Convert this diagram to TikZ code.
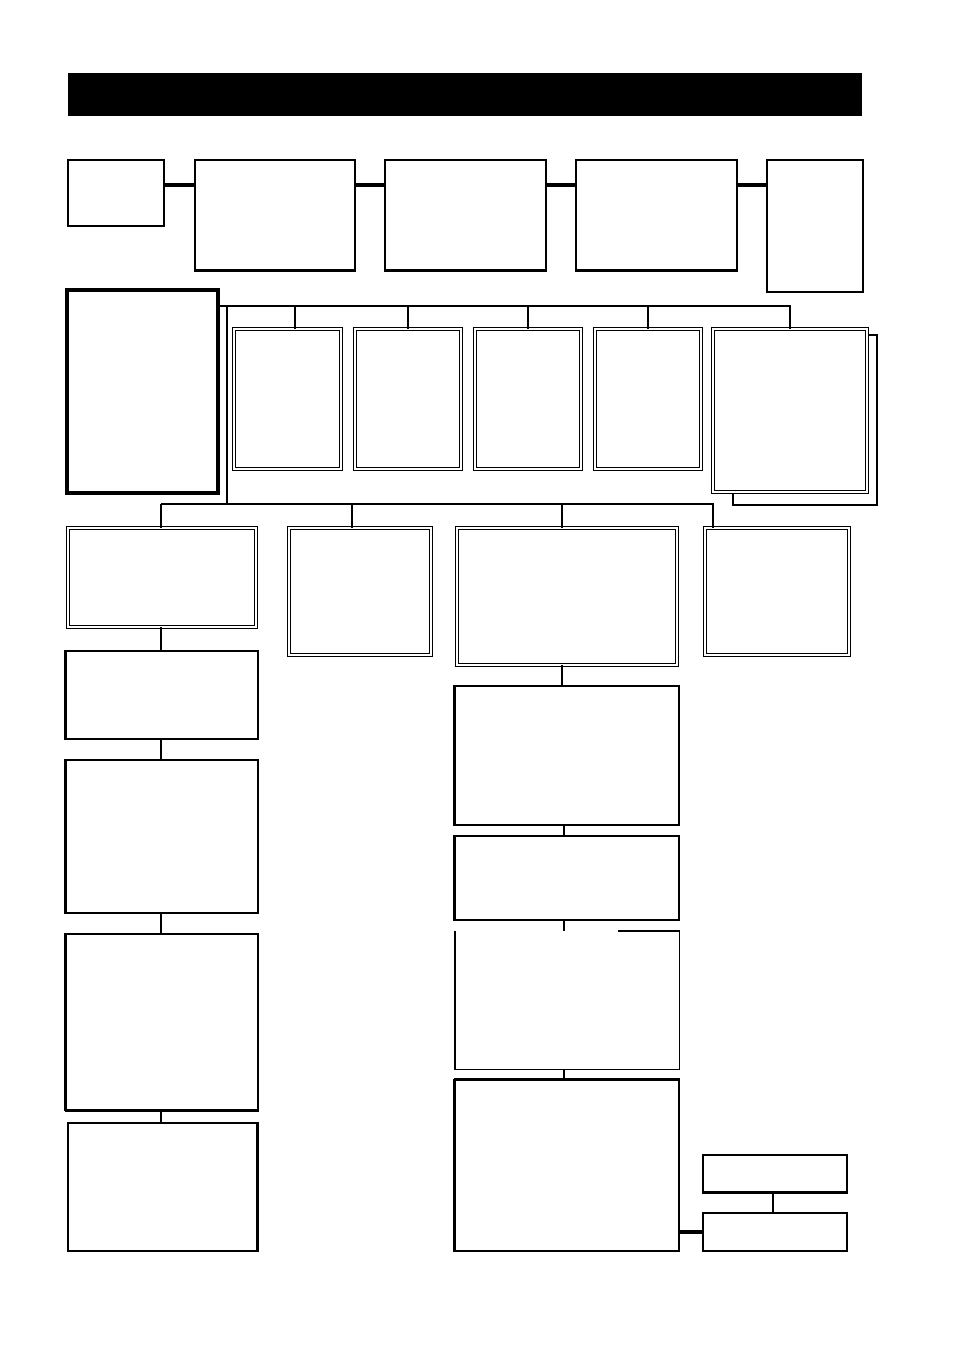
\documentclass[tikz,border=0pt]{standalone}
\usetikzlibrary{fit}
\begin{document}
\begin{tikzpicture}[x=1pt,y=-1pt,
  box/.style={draw, line width=1.1pt, inner sep=0pt, fill=white},
  dbox/.style={draw, double, line width=0.9pt, double distance=1.7pt, inner sep=0pt, fill=white},
  heavybox/.style={draw, line width=3.8pt, inner sep=0pt},
  link/.style={line width=3.4pt},
  wire/.style={line width=2pt},
  thickedge/.style={line width=2.6pt}]
\newcommand\mybox[6]{\node[#6, fit={(#2,#3) (#4,#5)}] (#1) {};}
\useasboundingbox (0,0) rectangle (954,1348);
% title bar
\node[fill=black, inner sep=0pt, fit={(68,73) (862,116)}] (bar) {};
% top row
\mybox{a}{68}{160}{164}{226}{box}
\mybox{b}{195}{160}{355}{270}{box}
\mybox{c}{385}{160}{546}{270}{box}
\mybox{d}{576}{160}{737}{270}{box}
\mybox{e}{767}{160}{863}{292}{box}
\draw[thickedge] (b.south west) -- (b.south east);
\draw[thickedge] (c.south west) -- (c.south east);
\draw[thickedge] (d.south west) -- (d.south east);
\draw[link] (a.east |- 0,185) -- (b.west |- 0,185);
\draw[link] (b.east |- 0,185) -- (c.west |- 0,185);
\draw[link] (c.east |- 0,185) -- (d.west |- 0,185);
\draw[link] (d.east |- 0,185) -- (e.west |- 0,185);
% main box
\mybox{main}{67}{290}{218}{493}{heavybox}
% second row
\mybox{r1}{234}{329}{341}{469}{dbox}
\mybox{r2}{355}{329}{461}{469}{dbox}
\mybox{r3}{475}{329}{581}{469}{dbox}
\mybox{r4}{595}{329}{701}{469}{dbox}
\draw[line width=1.1pt, fill=white] (733,335) rectangle (877,505);
\draw[line width=2.4pt] (877,505) -- (733,505);
\mybox{r5}{713}{329}{867}{492}{dbox}
\coordinate (busA) at (219,306);
\coordinate (busB) at (227,504);
\draw[wire] (main.east |- busA) -- (r5.north |- busA) -- (r5.north);
\draw[wire] ([xshift=7pt]r1.north |- busA) -- ([xshift=7pt]r1.north);
\draw[wire] (r2.north |- busA) -- (r2.north);
\draw[wire] (r3.north |- busA) -- (r3.north);
\draw[wire] (r4.north |- busA) -- (r4.north);
\draw[wire] (227,306) -- (busB);
% third row
\mybox{s1}{68}{528}{256}{627}{dbox}
\mybox{s2}{289}{528}{431}{655}{dbox}
\mybox{s3}{457}{528}{677}{665}{dbox}
\mybox{s4}{705}{528}{849}{655}{dbox}
\coordinate (busC) at (713,504);
\draw[wire] ([xshift=-1pt]s1.north |- busB) -- (busC) -- (busC |- s4.north);
\draw[wire] ([xshift=-1pt]s1.north |- busB) -- ([xshift=-1pt]s1.north);
\draw[wire] ([xshift=-8pt]s2.north |- busB) -- ([xshift=-8pt]s2.north);
\draw[wire] ([xshift=-5pt]s3.north |- busB) -- ([xshift=-5pt]s3.north);
% left column
\mybox{l1}{66}{651}{258}{739}{box}
\mybox{l2}{66}{760}{258}{913}{box}
\mybox{l3}{66}{934}{258}{1110}{box}
\mybox{l4}{68}{1123}{257}{1251}{box}
\draw[wire] ([xshift=-1pt]s1.south) -- ([xshift=-1pt]l1.north);
\draw[wire] ([xshift=-1pt]l1.south) -- ([xshift=-1pt]l2.north);
\draw[wire] ([xshift=-1pt]l2.south) -- ([xshift=-1pt]l3.north);
\draw[wire] ([xshift=-1pt]l3.south) -- ([xshift=-1pt]l3.south |- l4.north);
\draw[thickedge] (l1.north west) -- (l1.south west);
\draw[thickedge] (l2.north west) -- (l2.south west);
\draw[thickedge] (l3.north west) -- (l3.south west);
\draw[thickedge] (l3.south west) -- (l3.south east);
\draw[thickedge] (l4.north east) -- (l4.south east);
% middle column
\mybox{m1}{455}{686}{679}{825}{box}
\mybox{m2}{455}{836}{679}{920}{box}
\node[inner sep=0pt, fit={(455,931) (679,1069)}] (m3) {};
\draw[line width=1.1pt] (618,931) -| (m3.south east) -| (m3.north west);
\mybox{m4}{455}{1080}{679}{1251}{box}
\draw[thickedge] (m1.north west) -- (m1.south west);
\draw[thickedge] (m2.north west) -- (m2.south west);
\draw[thickedge] (m3.north west) -- (m3.south west);
\draw[thickedge] (m4.north west) -- (m4.south west);
\draw[thickedge] (m4.north west) -- (m4.north east);
\draw[wire] ([xshift=-5pt]s3.south) -- ([xshift=-5pt]m1.north);
\draw[wire] ([xshift=-3pt]m1.south) -- ([xshift=-3pt]m2.north);
\draw[wire] ([xshift=-3pt]m2.south) -- ([xshift=-3pt]m3.north);
\draw[wire] ([xshift=-3pt]m3.south) -- ([xshift=-3pt]m4.north);
% bottom right
\mybox{n1}{703}{1155}{847}{1192}{box}
\mybox{n2}{703}{1213}{847}{1251}{box}
\draw[thickedge] (n1.south west) -- (n1.south east);
\draw[wire] ([xshift=-2pt]n1.south) -- ([xshift=-2pt]n2.north);
\draw[link] (m4.east |- 0,1232) -- (n2.west |- 0,1232);
\end{tikzpicture}
\end{document}
